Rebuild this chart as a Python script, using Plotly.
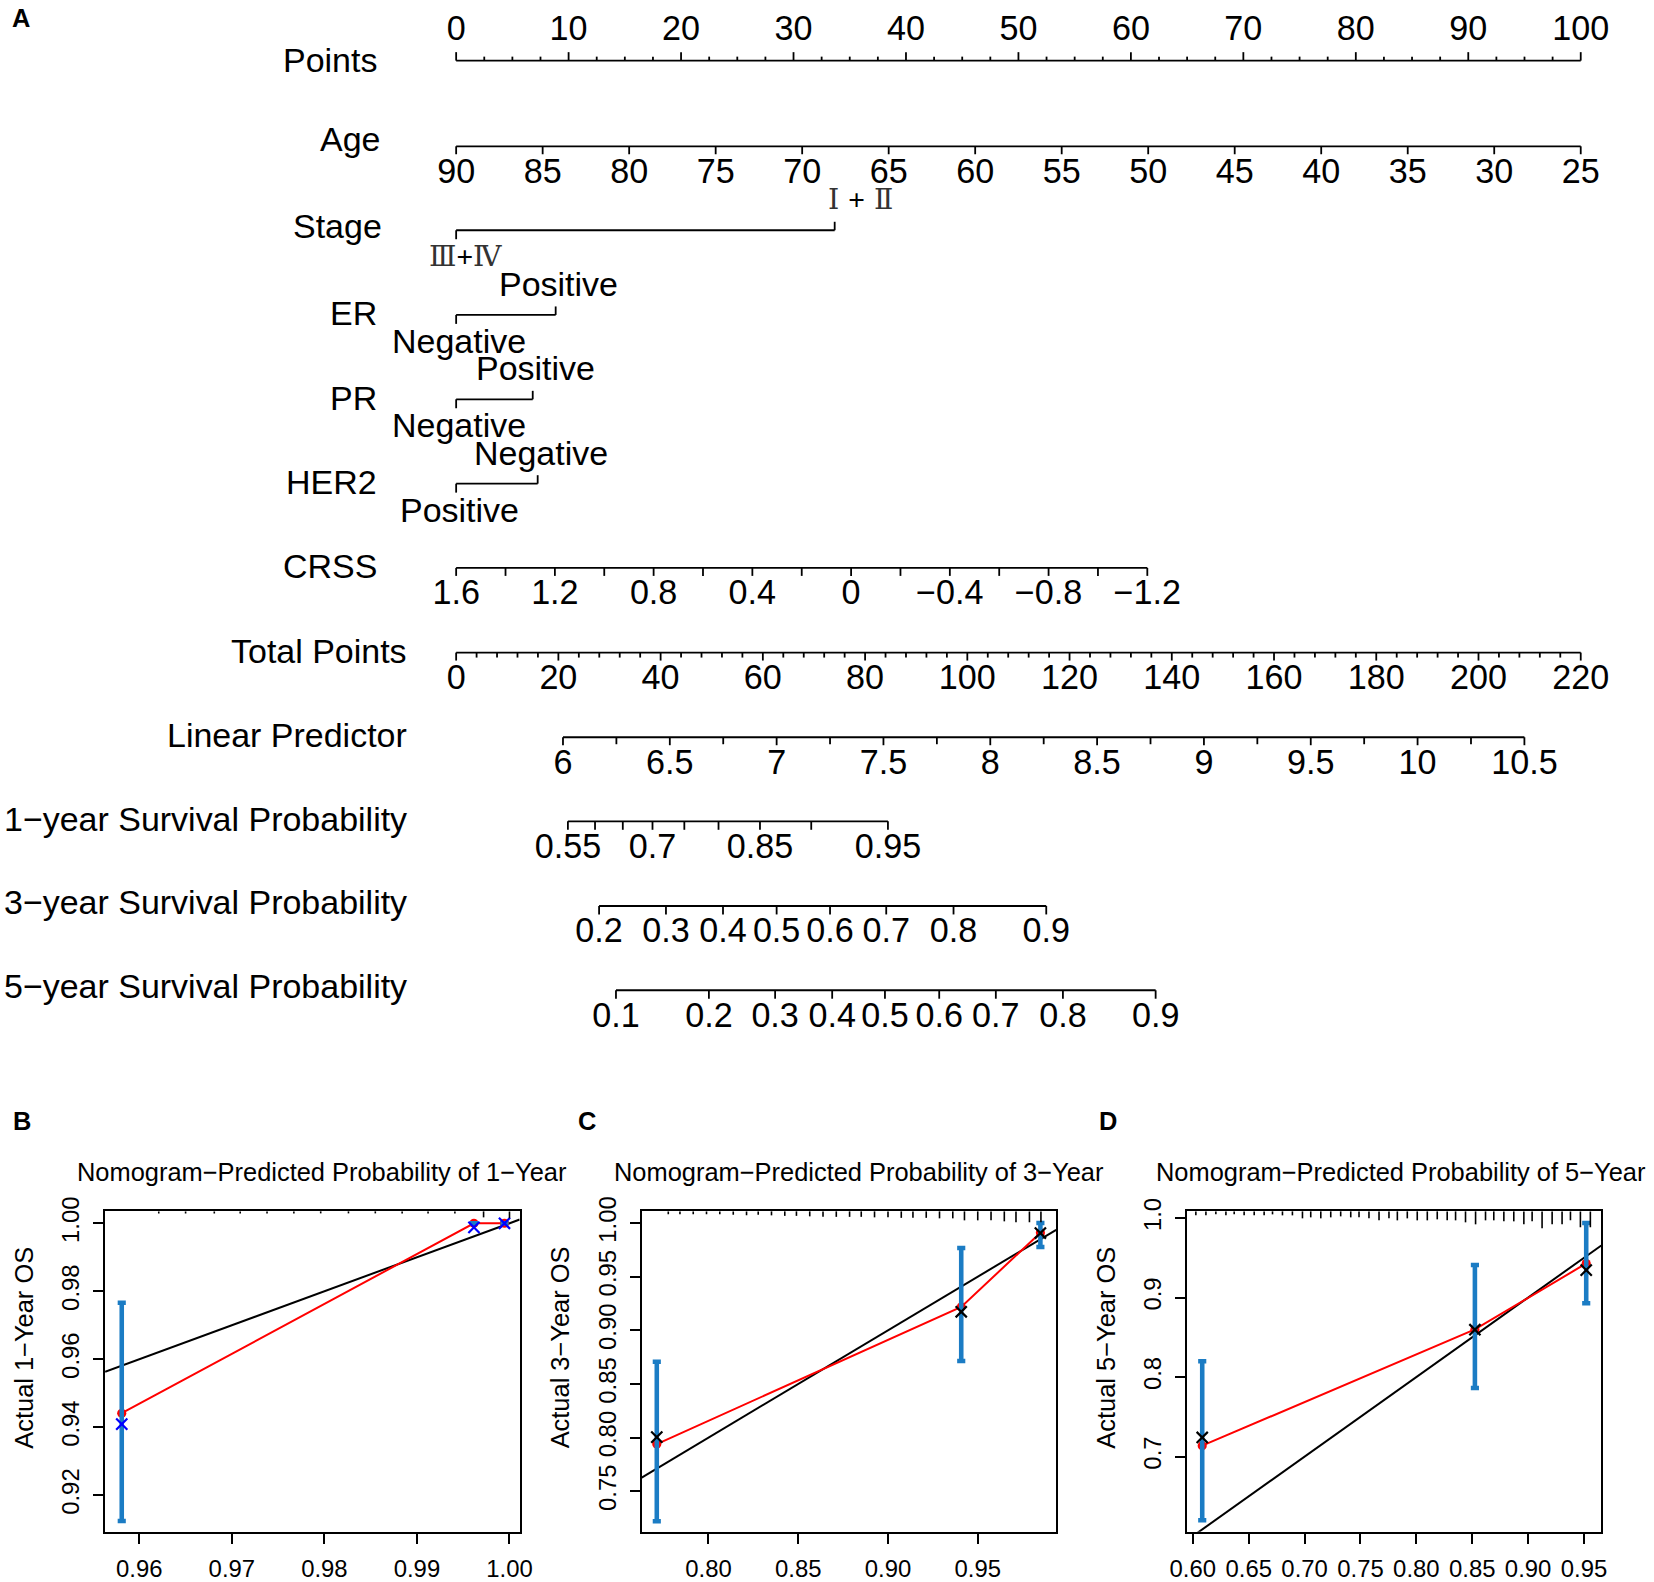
import plotly.graph_objects as go

W, H = 1654, 1582
# The photographed page shows the figure slightly shrunk and offset; layout positions
# below are given in reference-picture pixels and mapped onto the page with this transform.
AX, BX = 16.3, 0.9831    # picture x = AX + BX * page x
AY, BY = 13.2, 0.9830    # picture y = AY + BY * page y
S = 2 / (BX + BY)
FONT = "Arial, 'Liberation Sans', Helvetica, sans-serif"
SERIF = "'DejaVu Serif', 'Liberation Serif', serif"

# ---------------- Panel A : nomogram data ----------------
points_label_values = [0, 10, 20, 30, 40, 50, 60, 70, 80, 90, 100]
points_minor_values = [i * 2.5 for i in range(41)]
age_ticks = [90, 85, 80, 75, 70, 65, 60, 55, 50, 45, 40, 35, 30, 25]
age_at_0_points, age_at_100_points = 90, 25
stage_levels = ["Ⅲ<span style='font-family:Arial, Liberation Sans;color:#000000'>+</span>Ⅳ",
                "Ⅰ <span style='font-family:Arial, Liberation Sans;color:#000000'>+</span> Ⅱ"]
stage_points = [0, 33.66]
er_levels = ["Negative", "Positive"]
er_points = [0, 8.85]
pr_levels = ["Negative", "Positive"]
pr_points = [0, 6.81]
her2_levels = ["Positive", "Negative"]
her2_points = [0, 7.25]
crss_ticks = [1.6, 1.4, 1.2, 1.0, 0.8, 0.6, 0.4, 0.2, 0.0, -0.2, -0.4, -0.6, -0.8, -1.0, -1.2]
crss_label_values = [1.6, 1.2, 0.8, 0.4, 0.0, -0.4, -0.8, -1.2]
crss_labels = ["1.6", "1.2", "0.8", "0.4", "0", "−0.4", "−0.8", "−1.2"]
crss_points_at_last = 61.46
total_points_max = 220
total_label_values = [0, 20, 40, 60, 80, 100, 120, 140, 160, 180, 200, 220]
total_minor_values = list(range(0, 221, 4))
lp_label_values = [6, 6.5, 7, 7.5, 8, 8.5, 9, 9.5, 10, 10.5]
lp_labels = ["6", "6.5", "7", "7.5", "8", "8.5", "9", "9.5", "10", "10.5"]
lp_minor_values = [6 + 0.25 * i for i in range(19)]
lp_anchor = [6.0, 10.5]
lp_anchor_total = [20.9, 208.98]
surv1_values = [0.55, 0.6, 0.65, 0.7, 0.75, 0.8, 0.85, 0.9, 0.95]
surv1_lp = [6.023, 6.150, 6.280, 6.419, 6.568, 6.728, 6.922, 7.162, 7.521]
surv1_labeled = ["0.55", "", "", "0.7", "", "", "0.85", "", "0.95"]
surv3_values = [0.2, 0.3, 0.4, 0.5, 0.6, 0.7, 0.8, 0.9]
surv3_lp = [6.169, 6.482, 6.749, 7.000, 7.250, 7.513, 7.828, 8.262]
surv3_labeled = ["0.2", "0.3", "0.4", "0.5", "0.6", "0.7", "0.8", "0.9"]
surv5_values = [0.1, 0.2, 0.3, 0.4, 0.5, 0.6, 0.7, 0.8, 0.9]
surv5_lp = [6.248, 6.683, 6.993, 7.260, 7.507, 7.761, 8.026, 8.340, 8.774]
surv5_labeled = ["0.1", "0.2", "0.3", "0.4", "0.5", "0.6", "0.7", "0.8", "0.9"]

# ---------------- Panels B-D : calibration data ----------------
cal1_pred = [0.9581, 0.99616, 0.99946]
cal1_obs = [0.9441, 1.000, 1.000]
cal1_lo = [0.9124, 1.000, 1.000]
cal1_hi = [0.9766, 1.000, 1.000]
cal1_corr = [0.9409, 0.9988, 1.000]
cal1_rug_x = [0.9621, 0.9650, 0.9681, 0.9709, 0.9738, 0.9767, 0.9796, 0.9826, 0.9855,
              0.9884, 0.9912, 0.9941, 0.9972, 1.0000]
cal1_rug_n = [2, 2, 2, 2, 2, 2, 2, 2, 2, 2, 2, 2, 6, 7]

cal3_pred = [0.7712, 0.9408, 0.9849]
cal3_obs = [0.794, 0.9219, 0.991]
cal3_lo = [0.7221, 0.8715, 0.9777]
cal3_hi = [0.8708, 0.9768, 1.000]
cal3_corr = [0.8005, 0.9173, 0.9907]
cal3_rug_x = [0.7776, 0.7841, 0.7915, 0.7989, 0.8063, 0.8138, 0.8212, 0.8277, 0.8351, 0.8425,
              0.8490, 0.8564, 0.8638, 0.8712, 0.8786, 0.8851, 0.8925, 0.9000, 0.9074, 0.9139,
              0.9213, 0.9287, 0.9361, 0.9426, 0.9500, 0.9574, 0.9648, 0.9713, 0.9788, 0.9852]
cal3_rug_n = [3, 3, 3, 3, 3, 3.5, 4, 3.5, 4, 4.5, 4.5, 5, 5.5, 5.5, 5.5, 5.5, 6, 6, 6.5, 6.5,
              6.5, 7, 7, 9, 9, 9, 10, 11, 11, 11]

cal5_pred = [0.6084, 0.8524, 0.952]
cal5_obs = [0.7137, 0.86, 0.9429]
cal5_lo = [0.62, 0.7863, 0.8929]
cal5_hi = [0.82, 0.9409, 0.9938]
cal5_corr = [0.7241, 0.8596, 0.9346]
cal5_rug_x = [0.6027, 0.6117, 0.6206, 0.6296, 0.6370, 0.6459, 0.6549, 0.6638, 0.6713, 0.6802,
              0.6891, 0.6981, 0.7055, 0.7145, 0.7234, 0.7323, 0.7413, 0.7487, 0.7576, 0.7666,
              0.7755, 0.7830, 0.7919, 0.8008, 0.8098, 0.8187, 0.8276, 0.8351, 0.8440, 0.8530,
              0.8619, 0.8693, 0.8783, 0.8872, 0.8962, 0.9036, 0.9125, 0.9215, 0.9304, 0.9379,
              0.9468, 0.9557]
cal5_rug_n = [4, 4, 3, 4, 3, 4, 4, 4, 3, 4, 4, 7, 6, 7, 6, 5, 6, 6, 7, 9,
              7, 9, 7, 9, 9, 8, 9, 9, 11, 13, 9, 9, 10, 10, 13, 10, 17, 13, 13, 9,
              16, 16]

# ---------------- scale conversions (nomogram model) ----------------
def age_pts(a):
    return (age_at_0_points - a) / (age_at_0_points - age_at_100_points) * 100

def crss_pts(c):
    return (crss_ticks[0] - c) / (crss_ticks[0] - crss_ticks[-1]) * crss_points_at_last

def total_pts(t):
    return t / total_points_max * 100

def lp_pts(l):
    t = lp_anchor_total[0] + (l - lp_anchor[0]) / (lp_anchor[1] - lp_anchor[0]) * (lp_anchor_total[1] - lp_anchor_total[0])
    return total_pts(t)

def fx(r):  # reference px -> paper x
    return (r - AX) / BX / W

def fy(r):  # reference px -> paper y
    return 1 - (r - AY) / BY / H

def fs(v):  # reference size -> page size
    return v * S

fig = go.Figure()

LINE_W = 1.8
row_line_y = {"Points": 59, "Age": 145, "Stage": 229.3, "ER": 314.3, "PR": 399, "HER2": 483.7,
              "CRSS": 568.3, "Total": 653.3, "LP": 738.3, "S1": 822.7, "S3": 907.7, "S5": 992.3}
BELOW, ABOVE = 28, -29.5
PTS_X0, PTS_PX_PER = 456, 11.26   # points axis: 0 points at ref px 456, 11.26 ref px per point
TICK_FONT = 33.6
LABEL_FONT = 33.4


def add_scale(tick_x, y_line, tick_len, up=False, major_x=None, major_len=None):
    xs, ys = [min(tick_x), max(tick_x), None], [y_line, y_line, None]
    sgn = -1 if up else 1
    majors = set(round(v, 6) for v in (major_x or []))
    for t in tick_x:
        L = major_len if (major_len and round(t, 6) in majors) else tick_len
        xs += [t, t, None]
        ys += [y_line, y_line + sgn * L, None]
    fig.add_trace(go.Scatter(x=xs, y=ys, mode="lines", line=dict(color="black", width=LINE_W),
                             hoverinfo="skip", xaxis="x", yaxis="y"))


def add_labels(xs, texts, y, size=TICK_FONT):
    fig.add_trace(go.Scatter(x=xs, y=[y] * len(xs), text=texts, mode="text",
                             textposition="middle center", cliponaxis=False,
                             textfont=dict(family=FONT, size=fs(size), color="black"),
                             hoverinfo="skip", xaxis="x", yaxis="y"))


add_scale(points_minor_values, row_line_y["Points"], 4, up=True,
          major_x=points_label_values, major_len=8.5)
add_labels(points_label_values, [str(v) for v in points_label_values], row_line_y["Points"] + ABOVE)
add_scale([age_pts(a) for a in age_ticks], row_line_y["Age"], 8)
add_labels([age_pts(a) for a in age_ticks], [str(a) for a in age_ticks], row_line_y["Age"] + BELOW)
add_scale([crss_pts(c) for c in crss_ticks], row_line_y["CRSS"], 8)
add_labels([crss_pts(c) for c in crss_label_values], crss_labels, row_line_y["CRSS"] + BELOW)
add_scale([total_pts(t) for t in total_minor_values], row_line_y["Total"], 5,
          major_x=[total_pts(t) for t in total_label_values], major_len=8)
add_labels([total_pts(t) for t in total_label_values], [str(t) for t in total_label_values],
           row_line_y["Total"] + BELOW)
add_scale([lp_pts(l) for l in lp_minor_values], row_line_y["LP"], 7,
          major_x=[lp_pts(l) for l in lp_label_values], major_len=8)
add_labels([lp_pts(l) for l in lp_label_values], lp_labels, row_line_y["LP"] + BELOW)
for key, lps, labs in [("S1", surv1_lp, surv1_labeled), ("S3", surv3_lp, surv3_labeled),
                       ("S5", surv5_lp, surv5_labeled)]:
    px_ = [lp_pts(l) for l in lps]
    add_scale(px_, row_line_y[key], 8.5)
    add_labels([p for p, t in zip(px_, labs) if t], [t for t in labs if t], row_line_y[key] + BELOW)

annotations = []

for key, pts in [("Stage", stage_points), ("ER", er_points), ("PR", pr_points), ("HER2", her2_points)]:
    y0 = row_line_y[key]
    fig.add_trace(go.Scatter(x=[pts[0], pts[0], None, pts[0], pts[1], None, pts[1], pts[1]],
                             y=[y0 + 9, y0, None, y0, y0, None, y0, y0 - 8.5],
                             mode="lines", line=dict(color="black", width=LINE_W),
                             hoverinfo="skip", xaxis="x", yaxis="y"))

for key, pts, levels in [("ER", er_points, er_levels), ("PR", pr_points, pr_levels),
                         ("HER2", her2_points, her2_levels)]:
    y0 = row_line_y[key]
    annotations.append(dict(x=pts[0], y=y0 + 26, xref="x", yref="y", text=levels[0], showarrow=False,
                            xshift=3 / BX, font=dict(family=FONT, size=fs(LABEL_FONT), color="black"),
                            xanchor="center", yanchor="middle"))
    annotations.append(dict(x=pts[1], y=y0 - 31, xref="x", yref="y", text=levels[1], showarrow=False,
                            xshift=3 / BX, font=dict(family=FONT, size=fs(LABEL_FONT), color="black"),
                            xanchor="center", yanchor="middle"))

y0 = row_line_y["Stage"]
annotations.append(dict(x=stage_points[0], y=y0 + 26, xref="x", yref="y", text=stage_levels[0],
                        showarrow=False, xshift=9 / BX, font=dict(family=SERIF, size=fs(28), color="#333333"),
                        xanchor="center", yanchor="middle"))
annotations.append(dict(x=stage_points[1], y=y0 - 31, xref="x", yref="y", text=stage_levels[1],
                        showarrow=False, xshift=25 / BX, font=dict(family=SERIF, size=fs(28), color="#333333"),
                        xanchor="center", yanchor="middle"))

row_labels = [("Points", 378.5, 58), ("Age", 381.6, 138), ("Stage", 383.7, 225), ("ER", 378.5, 312),
              ("PR", 378.5, 398), ("HER2", 378.5, 482), ("CRSS", 378.5, 566),
              ("Total Points", 409, 652), ("Linear Predictor", 409, 736),
              ("1−year Survival Probability", 409, 820), ("3−year Survival Probability", 409, 904),
              ("5−year Survival Probability", 409, 988)]
for txt, xr, yc in row_labels:
    annotations.append(dict(x=fx(xr), y=fy(yc), xref="paper", yref="paper", text=txt,
                            showarrow=False, xanchor="right", yanchor="middle",
                            font=dict(family=FONT, size=fs(LABEL_FONT), color="black")))

for letter, xc, yc in [("A", 20, 16), ("B", 21, 1124), ("C", 587, 1124), ("D", 1109, 1124)]:
    annotations.append(dict(x=fx(xc), y=fy(yc), xref="paper", yref="paper", text=f"<b>{letter}</b>",
                            showarrow=False, xanchor="center", yanchor="middle",
                            font=dict(family=FONT, size=fs(25), color="black")))

BLUE_BAR = "#1b7cc4"
panels = [
    dict(pred=cal1_pred, obs=cal1_obs, lo=cal1_lo, hi=cal1_hi, corr=cal1_corr, corr_color="#0000ff",
         rug_x=cal1_rug_x, rug_n=cal1_rug_n, xr=[0.9563, 1.0011], yr=[0.9092, 1.0035],
         xt=[0.96, 0.97, 0.98, 0.99, 1.00], xtt=["0.96", "0.97", "0.98", "0.99", "1.00"],
         yt=[0.92, 0.94, 0.96, 0.98, 1.00], ytt=["0.92", "0.94", "0.96", "0.98", "1.00"],
         dom_x=[104.5, 519.6], year="1", title_dx=10),
    dict(pred=cal3_pred, obs=cal3_obs, lo=cal3_lo, hi=cal3_hi, corr=cal3_corr, corr_color="black",
         rug_x=cal3_rug_x, rug_n=cal3_rug_n, xr=[0.7628, 0.9937], yr=[0.7122, 1.0109],
         xt=[0.80, 0.85, 0.90, 0.95], xtt=["0.80", "0.85", "0.90", "0.95"],
         yt=[0.75, 0.80, 0.85, 0.90, 0.95, 1.00], ytt=["0.75", "0.80", "0.85", "0.90", "0.95", "1.00"],
         dom_x=[641.8, 1056.8], year="3", title_dx=10),
    dict(pred=cal5_pred, obs=cal5_obs, lo=cal5_lo, hi=cal5_hi, corr=cal5_corr, corr_color="black",
         rug_x=cal5_rug_x, rug_n=cal5_rug_n, xr=[0.5948, 0.9655], yr=[0.6054, 1.0084],
         xt=[0.60, 0.65, 0.70, 0.75, 0.80, 0.85, 0.90, 0.95],
         xtt=["0.60", "0.65", "0.70", "0.75", "0.80", "0.85", "0.90", "0.95"],
         yt=[0.7, 0.8, 0.9, 1.0], ytt=["0.7", "0.8", "0.9", "1.0"],
         dom_x=[1187.8, 1602.6], year="5", title_dx=7),
]
BOX_TOP, BOX_BOT = 1214.3, 1536.0
box_h = BOX_BOT - BOX_TOP
shapes = []
layout_axes = {}
for i, p in enumerate(panels):
    n = i + 2
    xa, ya = f"x{n}", f"y{n}"
    fig.add_trace(go.Scatter(x=p["xr"], y=p["xr"], mode="lines", line=dict(color="black", width=2),
                             hoverinfo="skip", xaxis=xa, yaxis=ya))
    fig.add_trace(go.Scatter(x=p["pred"], y=p["obs"], mode="lines+markers",
                             line=dict(color="#ff0000", width=2),
                             marker=dict(symbol="circle", size=fs(9), color="#ff0000"),
                             hoverinfo="skip", xaxis=xa, yaxis=ya))
    fig.add_trace(go.Scatter(x=p["pred"], y=p["obs"], mode="markers",
                             marker=dict(size=1, color="rgba(0,0,0,0)"),
                             error_y=dict(type="data", symmetric=False,
                                          array=[h - o for h, o in zip(p["hi"], p["obs"])],
                                          arrayminus=[o - l for o, l in zip(p["obs"], p["lo"])],
                                          color=BLUE_BAR, thickness=fs(4.5), width=fs(4)),
                             hoverinfo="skip", xaxis=xa, yaxis=ya))
    fig.add_trace(go.Scatter(x=p["pred"], y=p["corr"], mode="markers",
                             marker=dict(symbol="x-thin", size=fs(11),
                                         line=dict(width=2.2, color=p["corr_color"])),
                             hoverinfo="skip", xaxis=xa, yaxis=ya))
    for rx, rn in zip(p["rug_x"], p["rug_n"]):
        shapes.append(dict(type="line", xref=xa, yref=f"{ya} domain", x0=rx, x1=rx,
                           y0=1, y1=1 - rn / box_h, line=dict(color="black", width=1.6)))
    dom_x = [fx(p["dom_x"][0]), fx(p["dom_x"][1])]
    dom_y = [fy(BOX_BOT), fy(BOX_TOP)]
    common = dict(showline=True, linecolor="black", linewidth=2, mirror=True, ticks="outside",
                  ticklen=fs(10), tickwidth=1.5, tickcolor="black", showgrid=False, zeroline=False,
                  tickfont=dict(family=FONT, size=fs(23.5), color="black"), fixedrange=True)
    layout_axes[f"xaxis{n}"] = dict(domain=dom_x, range=p["xr"], anchor=ya, tickvals=p["xt"],
                                    ticktext=p["xtt"], ticklabelstandoff=4, **common)
    layout_axes[f"yaxis{n}"] = dict(domain=dom_y, range=p["yr"], anchor=xa, tickvals=p["yt"],
                                    ticktext=p["ytt"], tickangle=-90, ticklabelstandoff=4, **common)
    cx = (p["dom_x"][0] + p["dom_x"][1]) / 2
    annotations.append(dict(x=fx(cx + p["title_dx"]), y=fy(1175), xref="paper", yref="paper",
                            text=f"Nomogram−Predicted Probability of {p['year']}−Year",
                            showarrow=False, xanchor="center", yanchor="middle",
                            font=dict(family=FONT, size=fs(25), color="black")))
    annotations.append(dict(x=fx(p["dom_x"][0] - 82), y=fy(1351), xref="paper", yref="paper",
                            text=f"Actual {p['year']}−Year OS", textangle=-90,
                            showarrow=False, xanchor="center", yanchor="middle",
                            font=dict(family=FONT, size=fs(25), color="black")))

fig.update_layout(
    width=W, height=H, margin=dict(l=0, r=0, t=0, b=0),
    paper_bgcolor="white", plot_bgcolor="white", showlegend=False,
    xaxis=dict(domain=[0, 1], range=[(AX - PTS_X0) / PTS_PX_PER, (AX + BX * W - PTS_X0) / PTS_PX_PER],
               visible=False, fixedrange=True),
    yaxis=dict(domain=[0, 1], range=[AY + BY * H, AY], visible=False, fixedrange=True),
    annotations=annotations, shapes=shapes,
    **layout_axes,
)

fig.write_html("out.html", config={"displayModeBar": False},
               post_script="document.body.style.margin='0';document.body.style.overflow='hidden';")
